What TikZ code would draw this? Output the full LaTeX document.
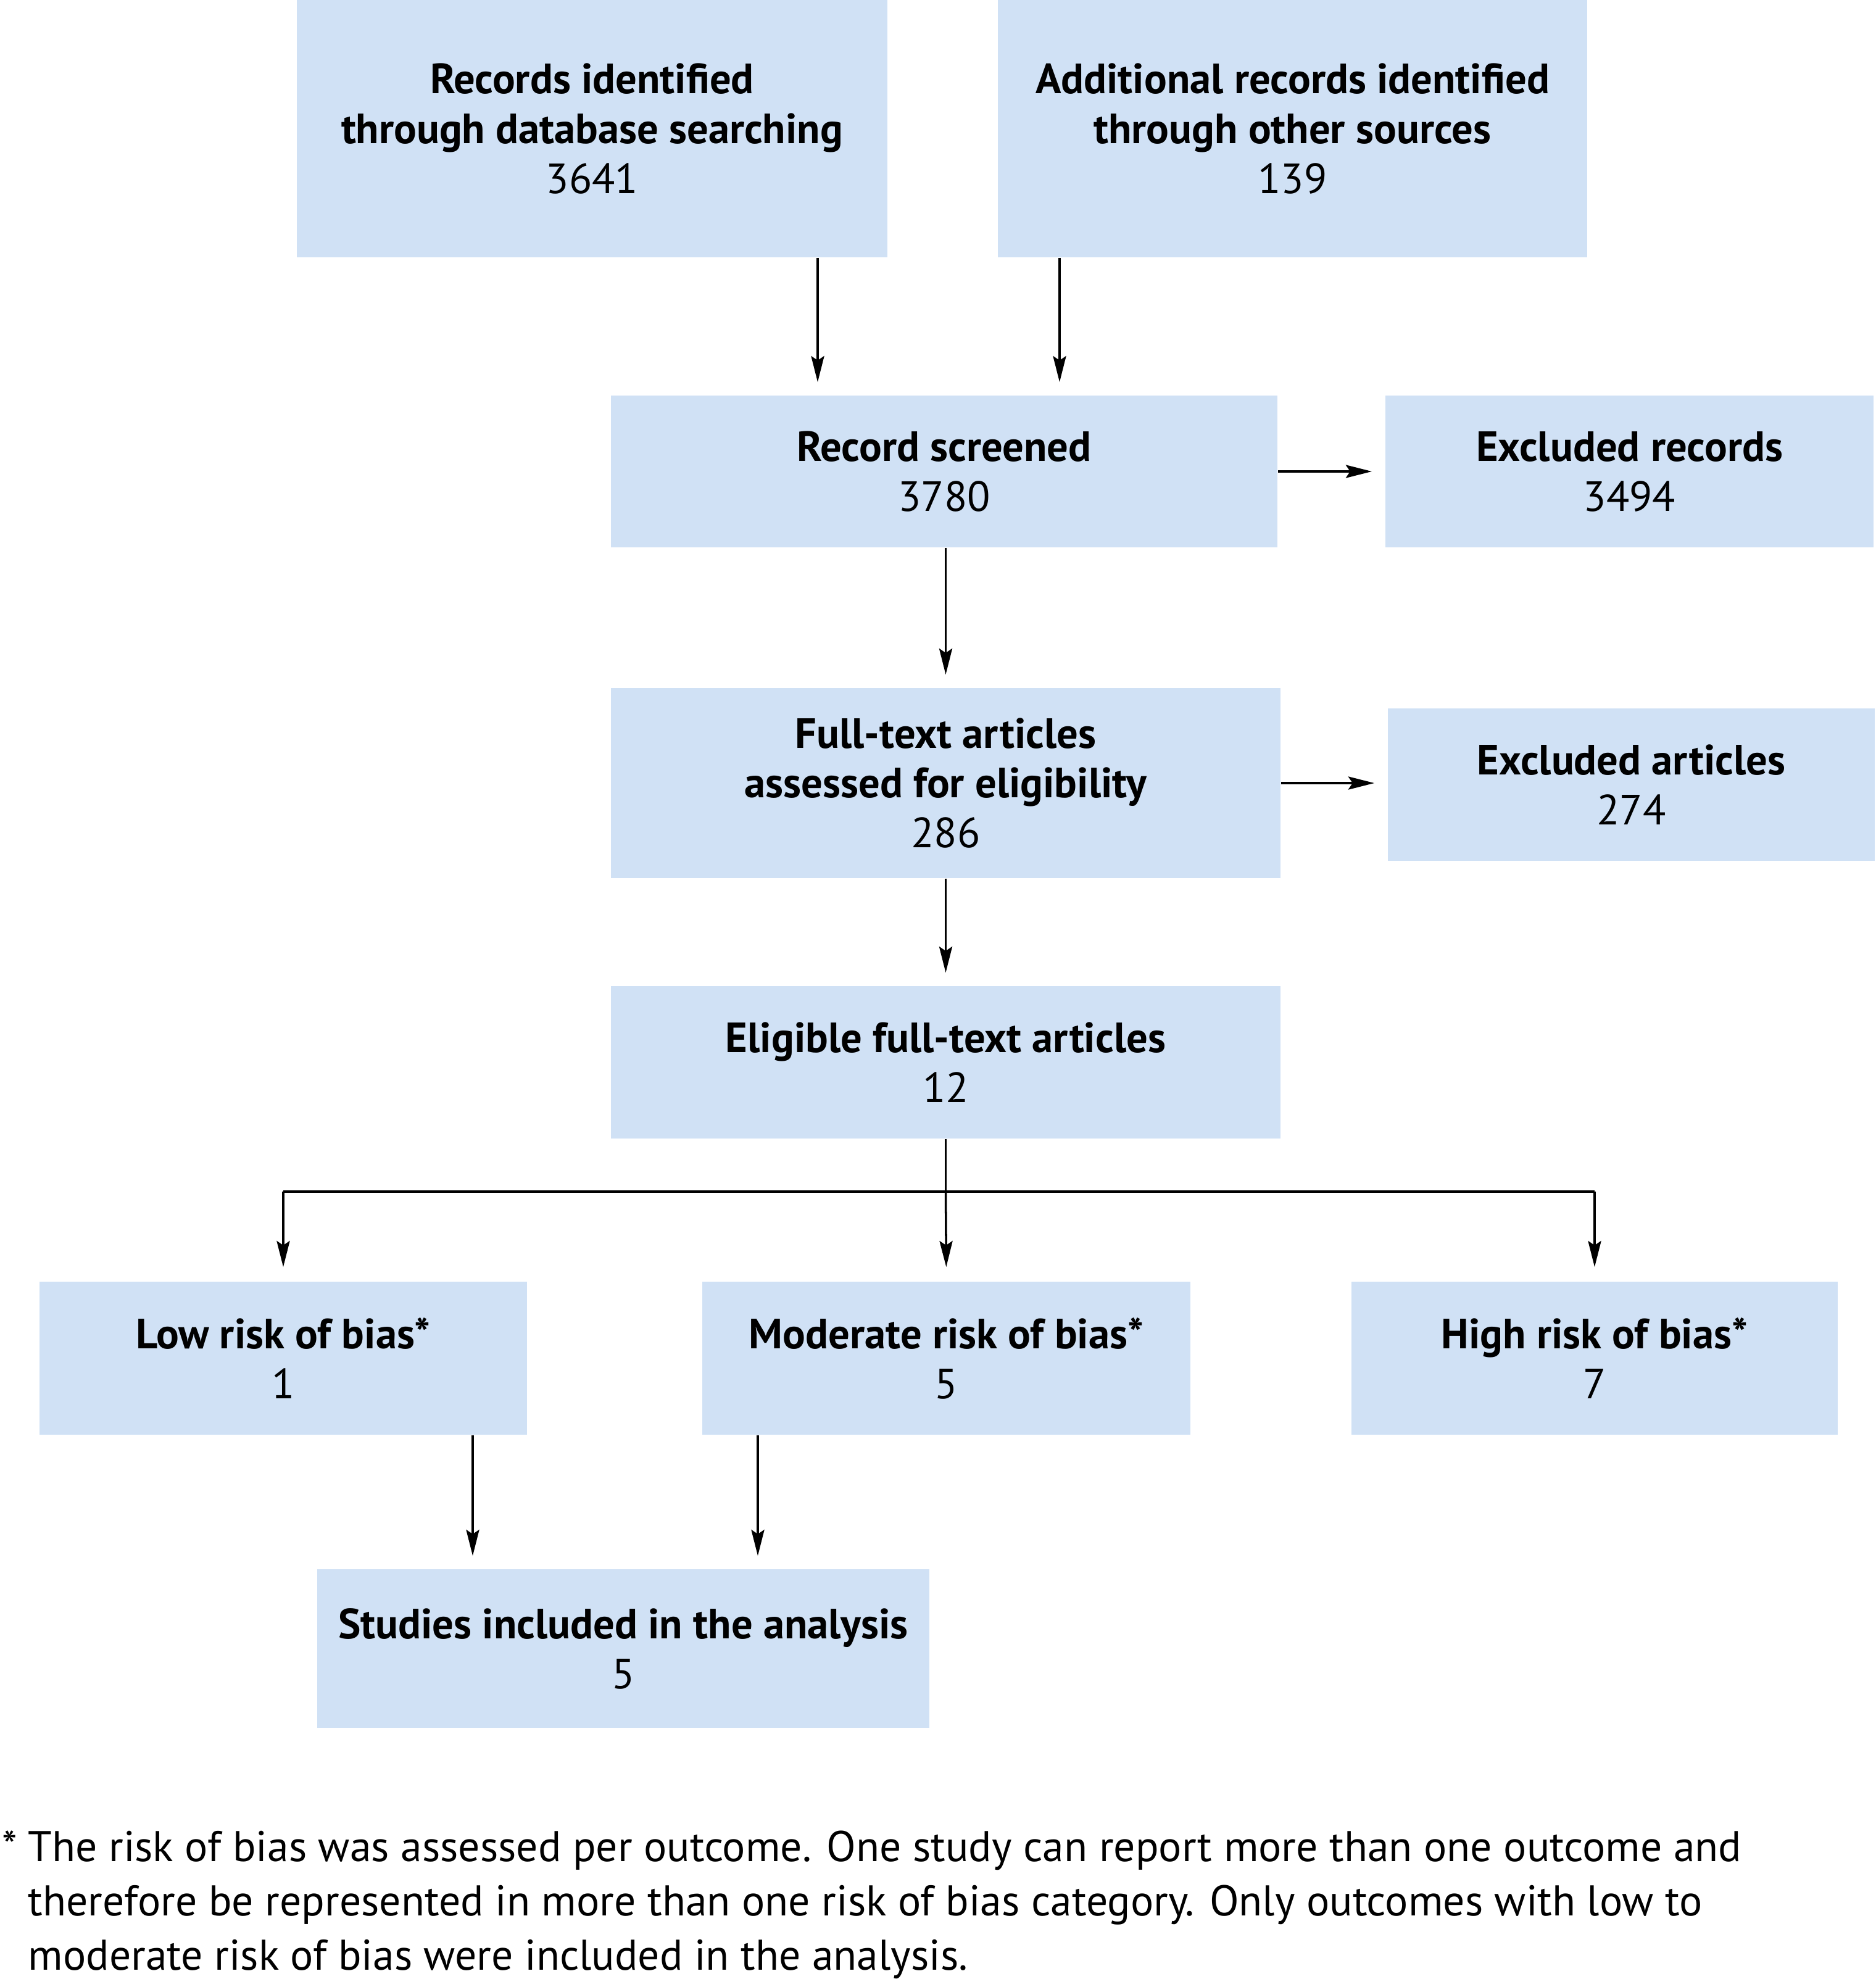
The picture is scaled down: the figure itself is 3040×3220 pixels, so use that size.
\documentclass[tikz,border=0pt]{standalone}
\usepackage{fontspec}
\setmainfont{PT Sans}
\usetikzlibrary{arrows.meta}
\definecolor{boxblue}{RGB}{208,225,245}
\begin{document}
\begin{tikzpicture}[x=0.01cm,y=-0.01cm,
  box/.style={fill=boxblue, draw=none, inner sep=0pt, align=center,
    font=\fontsize{19.5}{23}\selectfont},
  arr/.style={line width=1pt, -{Stealth[length=12pt,width=6pt,inset=2pt]}},
  ln/.style={line width=1pt}]
\fill[white] (0,0) rectangle (3040,3220);
\useasboundingbox (0,0) rectangle (3040,3220);
% boxes
\node[box, minimum width=9.57cm, minimum height=4.17cm] (b1) at (959.5,208.5)
  {\textbf{Records identified}\\\textbf{through database searching}\\3641};
\node[box, minimum width=9.55cm, minimum height=4.17cm] (b2) at (2094.5,208.5)
  {\textbf{Additional records identified}\\\textbf{through other sources}\\139};
\node[box, minimum width=10.80cm, minimum height=2.46cm] (sc) at (1530,764)
  {\textbf{Record screened}\\3780};
\node[box, minimum width=7.91cm, minimum height=2.46cm] (er) at (2640.5,764)
  {\textbf{Excluded records}\\3494};
\node[box, minimum width=10.85cm, minimum height=3.08cm] (ft) at (1532.5,1269)
  {\textbf{Full-text articles}\\\textbf{assessed for eligibility}\\286};
\node[box, minimum width=7.89cm, minimum height=2.47cm] (ea) at (2643.5,1271.5)
  {\textbf{Excluded articles}\\274};
\node[box, minimum width=10.85cm, minimum height=2.47cm] (el) at (1532.5,1721.5)
  {\textbf{Eligible full-text articles}\\12};
\node[box, minimum width=7.90cm, minimum height=2.48cm] (lo) at (459,2201)
  {\textbf{Low risk of bias*}\\1};
\node[box, minimum width=7.91cm, minimum height=2.48cm] (mo) at (1533.5,2201)
  {\textbf{Moderate risk of bias*}\\5};
\node[box, minimum width=7.88cm, minimum height=2.48cm] (hi) at (2584,2201)
  {\textbf{High risk of bias*}\\7};
\node[box, minimum width=9.92cm, minimum height=2.57cm] (st) at (1010,2671.5)
  {\textbf{Studies included in the analysis}\\5};
% helper coordinates
\coordinate (xa) at (1325,0);
\coordinate (xb) at (1717,0);
\coordinate (xl) at (766,0);
\coordinate (xm) at (1228,0);
\coordinate (hy) at (0,1931);
% arrows
\draw[arr, shorten >=0.21cm] (b1.south -| xa) -- (sc.north -| xa);
\draw[arr, shorten >=0.21cm] (b2.south -| xb) -- (sc.north -| xb);
\draw[arr, shorten >=0.21cm] (sc.east) -- (er.west |- sc.east);
\draw[arr, shorten >=0.21cm] (sc.south -| el.south) -- (ft.north);
\draw[arr, shorten >=0.21cm] (ft.east) -- (ea.west |- ft.east);
\draw[arr, shorten >=0.21cm] (ft.south) -- (el.north);
\coordinate (br) at (el.south |- hy);
\draw[ln] (el.south) -- (br);
\draw[ln] (lo.north |- hy) -- (hi.north |- hy);
\draw[arr, shorten >=0.23cm] (lo.north |- hy) -- (lo.north);
\draw[arr, shorten >=0.23cm] (br) -- (mo.north);
\draw[arr, shorten >=0.23cm] (hi.north |- hy) -- (hi.north);
\draw[arr, shorten >=0.21cm] (lo.south -| xl) -- (st.north -| xl);
\draw[arr, shorten >=0.21cm] (mo.south -| xm) -- (st.north -| xm);
% footnote
\node[anchor=west, align=left, inner sep=0pt, font=\fontsize{19.8}{25}\selectfont] (fn) at (45,3087)
  {\llap{*\hspace{0.25em}}The risk of bias was assessed per outcome. One study can report more than one outcome and\\
   therefore be represented in more than one risk of bias category. Only outcomes with low to\\
   moderate risk of bias were included in the analysis.};
\end{tikzpicture}
\end{document}
